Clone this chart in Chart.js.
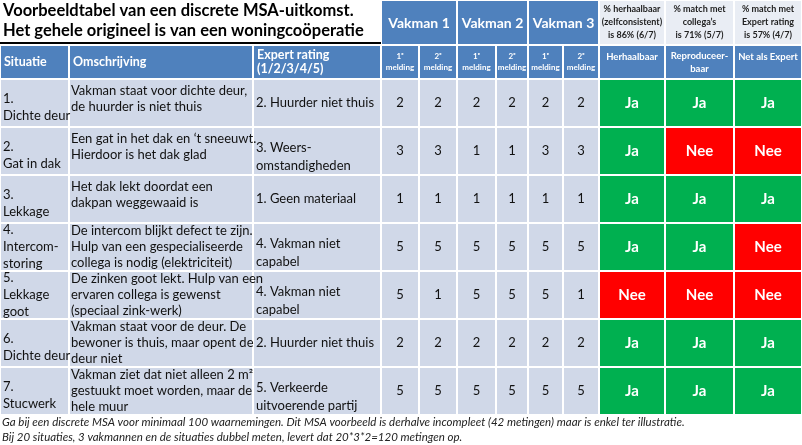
<!DOCTYPE html>
<html><head><meta charset="utf-8">
<script src="https://cdn.jsdelivr.net/npm/chart.js@4"></script>
<style>html,body{margin:0;padding:0;background:#fff}#wrap{width:802px;height:445px}</style>
</head><body><div id="wrap"><canvas id="c"></canvas></div>
<script>
// table data
const situaties = [["1.", "Dichte deur"], ["2.", "Gat in dak"], ["3.", "Lekkage"], ["4.", "Intercom-", "storing"], ["5.", "Lekkage", "goot"], ["6.", "Dichte deur"], ["7.", "Stucwerk"]];
const omschrijvingen = [
  ["Vakman staat voor dichte deur,", "de huurder is niet thuis"],
  ["Een gat in het dak en \u2018t sneeuwt.", "Hierdoor is het dak glad"],
  ["Het dak lekt doordat een", "dakpan weggewaaid is"],
  ["De intercom blijkt defect te zijn.", "Hulp van een gespecialiseerde", "collega is nodig (elektriciteit)"],
  ["De zinken goot lekt. Hulp van een", "ervaren collega is gewenst", "(speciaal zink-werk)"],
  ["Vakman staat voor de deur. De", "bewoner is thuis, maar opent de", "deur niet"],
  ["Vakman ziet dat niet alleen 2 m\u00b2", "gestuukt moet worden, maar de", "hele muur"]
];
const expertRatings = [["2. Huurder niet thuis"], ["3. Weers-", "omstandigheden"], ["1. Geen materiaal"], ["4. Vakman niet", "capabel"], ["4. Vakman niet", "capabel"], ["2. Huurder niet thuis"], ["5. Verkeerde", "uitvoerende partij"]];
const vakman1 = [[2, 2], [3, 3], [1, 1], [5, 5], [5, 1], [2, 2], [5, 5]];
const vakman2 = [[2, 2], [1, 1], [1, 1], [5, 5], [5, 5], [2, 2], [5, 5]];
const vakman3 = [[2, 2], [3, 3], [1, 1], [5, 5], [5, 1], [2, 2], [5, 5]];
const herhaalbaar = ["Ja", "Ja", "Ja", "Ja", "Nee", "Ja", "Ja"];
const reproduceerbaar = ["Ja", "Nee", "Ja", "Ja", "Nee", "Ja", "Ja"];
const netAlsExpert = ["Ja", "Nee", "Ja", "Nee", "Nee", "Ja", "Ja"];
const summaryTexts = [["% herhaalbaar", "(zelfconsistent)", "is 86% (6/7)"], ["% match met", "collega\u2019s", "is 71% (5/7)"], ["% match met", "Expert rating", "is 57% (4/7)"]];
const footnotes = [
  "Ga bij een discrete MSA voor minimaal 100 waarnemingen. Dit MSA voorbeeld is derhalve incompleet (42 metingen) maar is enkel ter illustratie.",
  "Bij 20 situaties, 3 vakmannen en de situaties dubbel meten, levert dat 20*3*2=120 metingen op."
];

const colX = [0, 69, 253, 381, 419, 457, 496, 528, 563, 599, 665, 734, 802];
const rowY = [79, 127, 175, 223, 271, 319, 367, 415];
const F = "Lato, 'Open Sans', sans-serif";
const BLUE = "#4f81bd", CELL = "#d0d8e8", GREEN = "#00b050", RED = "#ff0000";

const tablePlugin = {
  id: "table",
  afterDraw(chart) {
    const ctx = chart.ctx, sx = chart.scales.x, sy = chart.scales.y;
    const X = v => sx.getPixelForValue(v), Y = v => sy.getPixelForValue(v);
    const rect = (x0, y0, x1, y1, c) => { ctx.fillStyle = c; ctx.fillRect(X(x0) + 1, Y(y0) + 1, X(x1) - X(x0) - 2, Y(y1) - Y(y0) - 2); };
    const lines = (arr, x, yc, lh, font, color, align) => {
      ctx.font = font; ctx.fillStyle = color; ctx.textAlign = align || "left"; ctx.textBaseline = "middle";
      const y0 = yc - (arr.length - 1) * lh / 2;
      arr.forEach((t, i) => ctx.fillText(t, x, y0 + i * lh));
    };
    ctx.save();
    // title
    lines(["Voorbeeldtabel van een discrete MSA-uitkomst.", "Het gehele origineel is van een woningco\u00f6peratie"], X(3), Y(21), 20, "bold 16.5px " + F, "#000");
    ctx.fillStyle = "#000"; ctx.fillRect(X(0), Y(42), X(381), 2);
    // Vakman headers
    ["Vakman 1", "Vakman 2", "Vakman 3"].forEach((t, i) => {
      const a = colX[3 + i * 2], b = colX[5 + i * 2];
      rect(a, 0, b, 45, BLUE);
      lines([t], (X(a) + X(b)) / 2, Y(23), 14, "bold 14px " + F, "#fff", "center");
    });
    summaryTexts.forEach((s, i) => {
      const a = colX[9 + i], b = colX[10 + i];
      rect(a, 0, b, 45, "#e9edf4");
      lines(s, (X(a) + X(b)) / 2, Y(22), 13, "bold 9px " + F, "#222", "center");
    });
    // header row
    const heads = [["Situatie"], ["Omschrijving"], ["Expert rating", "(1/2/3/4/5)"]];
    heads.forEach((h, i) => {
      rect(colX[i], 45, colX[i + 1], rowY[0], BLUE);
      lines(h, X(colX[i]) + 4, h.length > 1 ? Y(62) : Y(62), 14, "bold 12.5px " + F, "#fff");
    });
    for (let i = 3; i < 9; i++) {
      rect(colX[i], 45, colX[i + 1], rowY[0], BLUE);
      const xc = (X(colX[i]) + X(colX[i + 1])) / 2;
      lines([i % 2 ? "1\u1d49" : "2\u1d49", "melding"], xc, Y(62), 11, "bold 8px " + F, "#fff", "center");
    }
    [["Herhaalbaar"], ["Reproduceer-", "baar"], ["Net als Expert"]].forEach((h, i) => {
      rect(colX[9 + i], 45, colX[10 + i], rowY[0], BLUE);
      lines(h, (X(colX[9 + i]) + X(colX[10 + i])) / 2, Y(h.length > 1 ? 62 : 57), 13, "bold 9.5px " + F, "#fff", "center");
    });
    // data rows
    situaties.forEach((s, r) => {
      const y0 = rowY[r], y1 = rowY[r + 1], yc = Y((y0 + y1) / 2);
      for (let i = 0; i < 9; i++) rect(colX[i], y0, colX[i + 1], y1, CELL);
      lines(s, X(3), yc + (s.length === 2 ? 4 : 0), 17, "13px " + F, "#111");
      lines(omschrijvingen[r], X(colX[1]) + 2, yc - (omschrijvingen[r].length === 2 ? 4 : 0), 16, "13px " + F, "#111");
      lines(expertRatings[r], X(colX[2]) + 3, yc + (expertRatings[r].length === 2 ? 6 : 0), 18, "13px " + F, "#111");
      const vals = vakman1[r].concat(vakman2[r], vakman3[r]);
      vals.forEach((v, k) => lines([String(v)], (X(colX[3 + k]) + X(colX[4 + k])) / 2, yc, 14, "13px " + F, "#111", "center"));
      [herhaalbaar[r], reproduceerbaar[r], netAlsExpert[r]].forEach((v, k) => {
        rect(colX[9 + k], y0, colX[10 + k], y1, v === "Ja" ? GREEN : RED);
        lines([v], (X(colX[9 + k]) + X(colX[10 + k])) / 2, yc, 14, "bold 15px " + F, "#fff", "center");
      });
    });
    lines(footnotes, X(2), Y(430), 15, "italic 11.5px " + F, "#222");
    ctx.restore();
  }
};

new Chart(document.getElementById("c"), {
  type: "scatter",
  data: { datasets: [{ data: [], pointRadius: 0 }] },
  options: {
    responsive: true, maintainAspectRatio: false, animation: false,
    layout: { padding: 0 },
    plugins: { legend: { display: false }, tooltip: { enabled: false } },
    scales: {
      x: { type: "linear", min: 0, max: 802, display: false },
      y: { type: "linear", min: 0, max: 445, reverse: true, display: false }
    }
  },
  plugins: [tablePlugin]
});
</script></body></html>
